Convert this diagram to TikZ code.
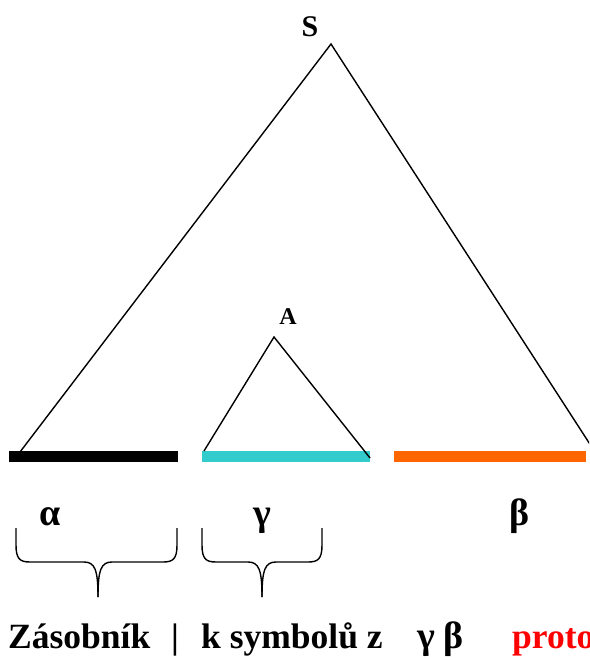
\documentclass[tikz,border=0pt]{standalone}
\usepackage{fontspec}
\setmainfont{Liberation Serif}
\definecolor{cyanbar}{HTML}{33CCCC}
\definecolor{orangebar}{HTML}{FF6600}
\begin{document}
\begin{tikzpicture}[x=1pt,y=-1pt,
  edge/.style={line width=1.4pt, black},
  brace/.style={line width=1.4pt, black},
  lbl/.style={inner sep=0pt, font=\bfseries},
  greek/.style={inner sep=0pt, font=\fontsize{38}{40}\selectfont\bfseries},
  bottom/.style={inner sep=0pt, anchor=base west, font=\fontsize{35.5}{40}\selectfont\bfseries}]
\clip (0,0) rectangle (589,660);
% bars
\fill[black] (9,451) rectangle (178,462);
\fill[cyanbar] (202,451) rectangle (370,462);
\fill[orangebar] (394,451) rectangle (586,462);
% triangle coordinates
\coordinate (Stop) at (331,44);
\coordinate (Sleft) at (20,452);
\coordinate (Sright) at (595,452);
\coordinate (Atop) at (274,337);
\coordinate (Aleft) at (204,451);
\coordinate (Aright) at (370,458);
\draw[edge] (Sleft) -- (Stop) -- (Sright);
\draw[edge] (Aleft) -- (Atop) -- (Aright);
% labels
\node[lbl, font=\fontsize{30}{32}\selectfont\bfseries, anchor=base] (S) at (310,37) {S};
\node[lbl, font=\fontsize{24}{26}\selectfont\bfseries, anchor=base] (A) at (288,324) {A};
\node[greek, anchor=base] (alpha) at (50,525) {α};
\node[greek, anchor=base] (gamma) at (262,525) {γ};
\node[greek, anchor=base] (beta) at (520,525) {β};
% braces
\draw[brace] (16,528) -- (16,545) .. controls (16,559) and (20,562) .. (30,562) -- (84,562) .. controls (95,562) and (98,570) .. (98,597);
\draw[brace] (177,528) -- (177,545) .. controls (177,559) and (173,562) .. (163,562) -- (112,562) .. controls (101,562) and (98,570) .. (98,597);
\draw[brace] (202,528) -- (202,545) .. controls (202,559) and (206,562) .. (216,562) -- (248,562) .. controls (259,562) and (262,570) .. (262,597);
\draw[brace] (322,528) -- (322,545) .. controls (322,559) and (318,562) .. (308,562) -- (276,562) .. controls (265,562) and (262,570) .. (262,597);
% bottom text
\node[bottom] (t1) at (8,648) {Zásobník};
\node[bottom] (t2) at (171,648) {|};
\node[bottom] (t3) at (201,648) {k symbolů z};
\node[bottom, font=\fontsize{38}{40}\selectfont\bfseries] (t4) at (417,648) {γ};
\node[bottom, font=\fontsize{38}{40}\selectfont\bfseries] (t5) at (443,648) {β};
\node[bottom, text=red] (t6) at (512,648) {proto};
\end{tikzpicture}
\end{document}
